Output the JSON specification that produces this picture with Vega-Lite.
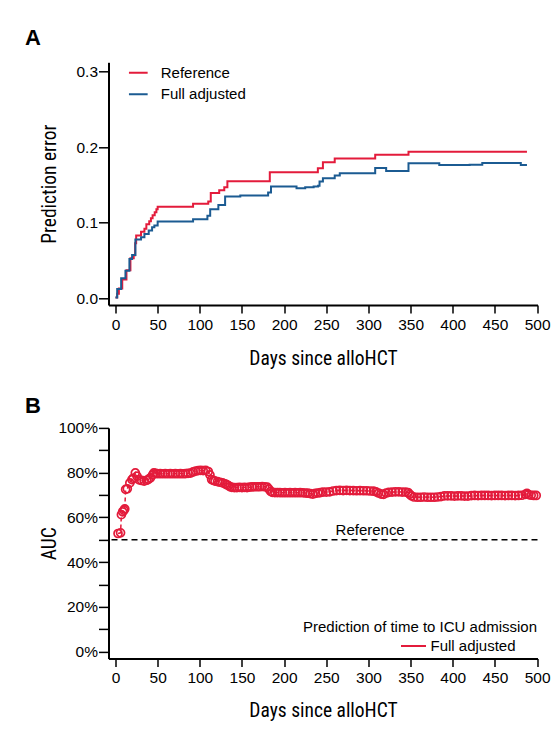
{
  "$schema": "https://vega.github.io/schema/vega-lite/v6.json",
  "padding": {"left": 24.5, "top": 27.3, "right": 0, "bottom": 12},
  "background": "white",
  "bounds": "flush",
  "spacing": 122.6,
  "resolve": {"scale": {"color": "independent"}, "legend": {"color": "independent"}},
  "config": {
    "view": {"stroke": null},
    "font": "Liberation Sans",
    "axis": {"grid": false, "domainColor": "black", "domainWidth": 2, "tickColor": "black", "tickWidth": 1.5, "labelFont": "Liberation Sans", "labelFontSize": 15.5, "labelColor": "black", "labelFlush": false, "titleFont": "Roboto Condensed, DejaVu Sans Condensed, Liberation Sans, sans-serif", "titleFontSize": 19.5, "titleFontWeight": "normal", "titleColor": "black"},
    "title": {"font": "Liberation Sans", "fontSize": 22, "fontWeight": "bold", "color": "black", "anchor": "start", "frame": "group", "dx": -83.5, "baseline": "alphabetic"}
  },
  "datasets": {
    "pe": [
      {"day": 0, "pe": 0.001, "model": "Reference"},
      {"day": 2, "pe": 0.006, "model": "Reference"},
      {"day": 4, "pe": 0.013, "model": "Reference"},
      {"day": 8, "pe": 0.025, "model": "Reference"},
      {"day": 13, "pe": 0.037, "model": "Reference"},
      {"day": 17.7, "pe": 0.053, "model": "Reference"},
      {"day": 21.6, "pe": 0.057, "model": "Reference"},
      {"day": 23.3, "pe": 0.073, "model": "Reference"},
      {"day": 24.5, "pe": 0.083, "model": "Reference"},
      {"day": 30.3, "pe": 0.088, "model": "Reference"},
      {"day": 34.3, "pe": 0.092, "model": "Reference"},
      {"day": 36.6, "pe": 0.098, "model": "Reference"},
      {"day": 40, "pe": 0.102, "model": "Reference"},
      {"day": 42, "pe": 0.106, "model": "Reference"},
      {"day": 44, "pe": 0.110, "model": "Reference"},
      {"day": 46.5, "pe": 0.114, "model": "Reference"},
      {"day": 48.5, "pe": 0.118, "model": "Reference"},
      {"day": 50, "pe": 0.1213, "model": "Reference"},
      {"day": 92, "pe": 0.125, "model": "Reference"},
      {"day": 110, "pe": 0.128, "model": "Reference"},
      {"day": 113, "pe": 0.1395, "model": "Reference"},
      {"day": 123, "pe": 0.143, "model": "Reference"},
      {"day": 129, "pe": 0.147, "model": "Reference"},
      {"day": 132.7, "pe": 0.155, "model": "Reference"},
      {"day": 183, "pe": 0.167, "model": "Reference"},
      {"day": 240, "pe": 0.172, "model": "Reference"},
      {"day": 246, "pe": 0.180, "model": "Reference"},
      {"day": 260, "pe": 0.185, "model": "Reference"},
      {"day": 308, "pe": 0.190, "model": "Reference"},
      {"day": 347.5, "pe": 0.194, "model": "Reference"},
      {"day": 488, "pe": 0.194, "model": "Reference"},
      {"day": 0, "pe": 0.001, "model": "Full adjusted"},
      {"day": 2, "pe": 0.0123, "model": "Full adjusted"},
      {"day": 6.7, "pe": 0.0265, "model": "Full adjusted"},
      {"day": 11.8, "pe": 0.0366, "model": "Full adjusted"},
      {"day": 16.5, "pe": 0.052, "model": "Full adjusted"},
      {"day": 19.7, "pe": 0.0573, "model": "Full adjusted"},
      {"day": 23.6, "pe": 0.0777, "model": "Full adjusted"},
      {"day": 30.3, "pe": 0.0808, "model": "Full adjusted"},
      {"day": 34.3, "pe": 0.085, "model": "Full adjusted"},
      {"day": 39.4, "pe": 0.0896, "model": "Full adjusted"},
      {"day": 43.4, "pe": 0.094, "model": "Full adjusted"},
      {"day": 46.1, "pe": 0.0962, "model": "Full adjusted"},
      {"day": 50, "pe": 0.1015, "model": "Full adjusted"},
      {"day": 92, "pe": 0.1046, "model": "Full adjusted"},
      {"day": 109, "pe": 0.1094, "model": "Full adjusted"},
      {"day": 112.3, "pe": 0.118, "model": "Full adjusted"},
      {"day": 122, "pe": 0.1236, "model": "Full adjusted"},
      {"day": 130, "pe": 0.1346, "model": "Full adjusted"},
      {"day": 148, "pe": 0.136, "model": "Full adjusted"},
      {"day": 181, "pe": 0.140, "model": "Full adjusted"},
      {"day": 184.4, "pe": 0.148, "model": "Full adjusted"},
      {"day": 214.7, "pe": 0.1457, "model": "Full adjusted"},
      {"day": 225, "pe": 0.147, "model": "Full adjusted"},
      {"day": 235, "pe": 0.148, "model": "Full adjusted"},
      {"day": 240.3, "pe": 0.149, "model": "Full adjusted"},
      {"day": 242, "pe": 0.1545, "model": "Full adjusted"},
      {"day": 246, "pe": 0.159, "model": "Full adjusted"},
      {"day": 260, "pe": 0.1624, "model": "Full adjusted"},
      {"day": 266, "pe": 0.1655, "model": "Full adjusted"},
      {"day": 308, "pe": 0.1726, "model": "Full adjusted"},
      {"day": 321, "pe": 0.1686, "model": "Full adjusted"},
      {"day": 347.5, "pe": 0.1788, "model": "Full adjusted"},
      {"day": 384, "pe": 0.1766, "model": "Full adjusted"},
      {"day": 420, "pe": 0.1768, "model": "Full adjusted"},
      {"day": 435, "pe": 0.179, "model": "Full adjusted"},
      {"day": 480.7, "pe": 0.1766, "model": "Full adjusted"},
      {"day": 488, "pe": 0.1766, "model": "Full adjusted"}
    ],
    "auc": [
      {"day": 3, "auc": 0.528}, {"day": 6, "auc": 0.531}, {"day": 7, "auc": 0.612}, {"day": 8.5, "auc": 0.625},
      {"day": 10, "auc": 0.632}, {"day": 11, "auc": 0.638}, {"day": 12, "auc": 0.725}, {"day": 14, "auc": 0.728},
      {"day": 17, "auc": 0.754}, {"day": 19.5, "auc": 0.769}, {"day": 21, "auc": 0.775}, {"day": 23.5, "auc": 0.799},
      {"day": 25.5, "auc": 0.784}, {"day": 28, "auc": 0.768}, {"day": 31, "auc": 0.765}, {"day": 34, "auc": 0.762},
      {"day": 37, "auc": 0.766}, {"day": 39, "auc": 0.770}, {"day": 41.5, "auc": 0.777}, {"day": 44, "auc": 0.790},
      {"day": 45.5, "auc": 0.799}, {"day": 48, "auc": 0.797}, {"day": 50, "auc": 0.795}, {"day": 53, "auc": 0.796},
      {"day": 56, "auc": 0.795}, {"day": 59, "auc": 0.796}, {"day": 62, "auc": 0.795}, {"day": 65, "auc": 0.796},
      {"day": 68, "auc": 0.795}, {"day": 71, "auc": 0.796}, {"day": 74, "auc": 0.795}, {"day": 77, "auc": 0.796},
      {"day": 80, "auc": 0.795}, {"day": 83, "auc": 0.796}, {"day": 86, "auc": 0.797}, {"day": 89, "auc": 0.798},
      {"day": 92, "auc": 0.803}, {"day": 95, "auc": 0.807}, {"day": 98, "auc": 0.809}, {"day": 101, "auc": 0.810},
      {"day": 104, "auc": 0.809}, {"day": 107, "auc": 0.810}, {"day": 110, "auc": 0.805}, {"day": 112, "auc": 0.790},
      {"day": 114, "auc": 0.769}, {"day": 116, "auc": 0.766}, {"day": 118, "auc": 0.762}, {"day": 121, "auc": 0.760},
      {"day": 124, "auc": 0.757}, {"day": 127, "auc": 0.754}, {"day": 130, "auc": 0.750}, {"day": 132, "auc": 0.746},
      {"day": 134, "auc": 0.742}, {"day": 136, "auc": 0.737}, {"day": 138, "auc": 0.734}, {"day": 141, "auc": 0.733},
      {"day": 144, "auc": 0.733}, {"day": 147, "auc": 0.734}, {"day": 150, "auc": 0.733}, {"day": 153, "auc": 0.734},
      {"day": 156, "auc": 0.733}, {"day": 159, "auc": 0.735}, {"day": 162, "auc": 0.736}, {"day": 165, "auc": 0.737},
      {"day": 168, "auc": 0.737}, {"day": 171, "auc": 0.737}, {"day": 174, "auc": 0.738}, {"day": 177, "auc": 0.737},
      {"day": 180, "auc": 0.735}, {"day": 182, "auc": 0.726}, {"day": 184, "auc": 0.716}, {"day": 186, "auc": 0.712},
      {"day": 189, "auc": 0.711}, {"day": 192, "auc": 0.711}, {"day": 195, "auc": 0.711}, {"day": 198, "auc": 0.710},
      {"day": 201, "auc": 0.711}, {"day": 204, "auc": 0.710}, {"day": 207, "auc": 0.711}, {"day": 210, "auc": 0.710},
      {"day": 213, "auc": 0.711}, {"day": 216, "auc": 0.710}, {"day": 219, "auc": 0.711}, {"day": 222, "auc": 0.710},
      {"day": 225, "auc": 0.709}, {"day": 228, "auc": 0.708}, {"day": 231, "auc": 0.706}, {"day": 234, "auc": 0.704},
      {"day": 237, "auc": 0.707}, {"day": 240, "auc": 0.709}, {"day": 243, "auc": 0.711}, {"day": 246, "auc": 0.713},
      {"day": 250, "auc": 0.713}, {"day": 254, "auc": 0.714}, {"day": 258, "auc": 0.718}, {"day": 262, "auc": 0.720},
      {"day": 266, "auc": 0.721}, {"day": 270, "auc": 0.720}, {"day": 274, "auc": 0.721}, {"day": 278, "auc": 0.720},
      {"day": 282, "auc": 0.720}, {"day": 286, "auc": 0.719}, {"day": 290, "auc": 0.720}, {"day": 294, "auc": 0.719},
      {"day": 298, "auc": 0.719}, {"day": 302, "auc": 0.718}, {"day": 306, "auc": 0.717}, {"day": 309, "auc": 0.714},
      {"day": 312, "auc": 0.709}, {"day": 315, "auc": 0.704}, {"day": 318, "auc": 0.703}, {"day": 321, "auc": 0.709},
      {"day": 324, "auc": 0.712}, {"day": 328, "auc": 0.713}, {"day": 332, "auc": 0.714}, {"day": 336, "auc": 0.714},
      {"day": 340, "auc": 0.713}, {"day": 344, "auc": 0.713}, {"day": 347, "auc": 0.711}, {"day": 349, "auc": 0.703},
      {"day": 351, "auc": 0.696}, {"day": 354, "auc": 0.691}, {"day": 358, "auc": 0.690}, {"day": 362, "auc": 0.690},
      {"day": 366, "auc": 0.691}, {"day": 370, "auc": 0.690}, {"day": 374, "auc": 0.690}, {"day": 378, "auc": 0.690},
      {"day": 382, "auc": 0.691}, {"day": 386, "auc": 0.693}, {"day": 390, "auc": 0.696}, {"day": 394, "auc": 0.696},
      {"day": 398, "auc": 0.696}, {"day": 402, "auc": 0.695}, {"day": 406, "auc": 0.696}, {"day": 410, "auc": 0.696},
      {"day": 414, "auc": 0.695}, {"day": 418, "auc": 0.695}, {"day": 422, "auc": 0.697}, {"day": 426, "auc": 0.698},
      {"day": 430, "auc": 0.697}, {"day": 434, "auc": 0.698}, {"day": 438, "auc": 0.698}, {"day": 442, "auc": 0.698},
      {"day": 446, "auc": 0.697}, {"day": 450, "auc": 0.698}, {"day": 454, "auc": 0.698}, {"day": 458, "auc": 0.698},
      {"day": 462, "auc": 0.697}, {"day": 466, "auc": 0.698}, {"day": 470, "auc": 0.698}, {"day": 474, "auc": 0.697},
      {"day": 478, "auc": 0.698}, {"day": 482, "auc": 0.699}, {"day": 486, "auc": 0.703}, {"day": 488, "auc": 0.707},
      {"day": 490, "auc": 0.702}, {"day": 493, "auc": 0.699}, {"day": 496, "auc": 0.698}, {"day": 499, "auc": 0.698}
    ]
  },
  "vconcat": [
    {
      "title": {"text": "A", "offset": 12},
      "width": 429,
      "height": 242.7,
      "data": {"name": "pe"},
      "mark": {"type": "line", "interpolate": "step-after", "strokeWidth": 2},
      "encoding": {
        "x": {"field": "day", "type": "quantitative",
          "scale": {"domain": [-8.3, 500.5], "nice": false, "zero": false},
          "axis": {"title": "Days since alloHCT", "values": [0, 50, 100, 150, 200, 250, 300, 350, 400, 450, 500], "tickSize": 8, "labelPadding": 4.2, "titleY": 60, "titleBaseline": "alphabetic"}},
        "y": {"field": "pe", "type": "quantitative",
          "scale": {"domain": [-0.0089, 0.3124], "nice": false, "zero": false},
          "axis": {"title": "Prediction error", "values": [0, 0.1, 0.2, 0.3], "format": ".1f", "tickSize": 10, "labelPadding": 1, "titleX": -53, "titleY": 121.35, "titleBaseline": "alphabetic"}},
        "color": {"field": "model", "type": "nominal",
          "scale": {"domain": ["Reference", "Full adjusted"], "range": ["#e31b3b", "#1b5b92"]},
          "legend": {"title": null, "orient": "none", "legendX": 19.3, "legendY": 2.9, "symbolType": "stroke", "symbolSize": 350, "symbolStrokeWidth": 2, "labelFontSize": 15, "labelFont": "Liberation Sans", "labelColor": "black", "labelOffset": 12, "clipHeight": 15, "rowPadding": 5.6, "padding": 0}}
      }
    },
    {
      "title": {"text": "B", "offset": 3},
      "width": 429,
      "height": 230.7,
      "layer": [
        {
          "data": {"values": [{"ref": 0.5}]},
          "mark": {"type": "rule", "strokeDash": [6, 4], "strokeWidth": 1.5, "color": "black"},
          "encoding": {"y": {"field": "ref", "type": "quantitative"}}
        },
        {
          "data": {"values": [{"day": 302, "auc": 0.543, "label": "Reference"}]},
          "mark": {"type": "text", "fontSize": 15, "font": "Liberation Sans", "baseline": "middle", "align": "center", "color": "black"},
          "encoding": {"x": {"field": "day", "type": "quantitative"}, "y": {"field": "auc", "type": "quantitative"}, "text": {"field": "label"}}
        },
        {
          "data": {"name": "auc"},
          "mark": {"type": "line", "strokeDash": [4, 3], "strokeWidth": 1.5},
          "encoding": {
            "x": {"field": "day", "type": "quantitative"},
            "y": {"field": "auc", "type": "quantitative"},
            "color": {"datum": "Full adjusted", "type": "nominal",
              "scale": {"domain": ["Full adjusted"], "range": ["#e31b3b"]},
              "legend": {"title": "Prediction of time to ICU admission", "orient": "none", "legendX": 194.5, "legendY": 192.6, "titleFont": "Liberation Sans", "titleFontSize": 15, "titleFontWeight": "normal", "titleColor": "black", "titleBaseline": "top", "titlePadding": 3, "titleLimit": 400, "symbolType": "stroke", "symbolDash": [30, 0], "symbolSize": 625, "symbolStrokeWidth": 2, "symbolOffset": 97, "labelOffset": 3.5, "labelLimit": 300, "labelFontSize": 15, "labelFont": "Liberation Sans", "labelColor": "black", "clipHeight": 15, "padding": 0}}
          }
        },
        {
          "data": {"name": "auc"},
          "mark": {"type": "point", "shape": "circle", "filled": false, "size": 64, "strokeWidth": 1.7, "color": "#e31b3b", "opacity": 1},
          "encoding": {
            "x": {"field": "day", "type": "quantitative"},
            "y": {"field": "auc", "type": "quantitative"}
          }
        }
      ],
      "encoding": {
        "x": {"type": "quantitative",
          "scale": {"domain": [-8.3, 500.5], "nice": false, "zero": false},
          "axis": {"title": "Days since alloHCT", "values": [0, 50, 100, 150, 200, 250, 300, 350, 400, 450, 500], "tickSize": 8, "labelPadding": 4.2, "titleY": 58, "titleBaseline": "alphabetic"}},
        "y": {"type": "quantitative",
          "scale": {"domain": [-0.0313, 1.0], "nice": false, "zero": false},
          "axis": {"title": "AUC", "values": [0, 0.1, 0.2, 0.3, 0.4, 0.5, 0.6, 0.7, 0.8, 0.9, 1.0], "labelExpr": "round(datum.value * 10) % 2 === 0 ? format(datum.value, '.0%') : ''", "tickSize": 10, "labelPadding": 1, "titleX": -53, "titleY": 115.35, "titleBaseline": "alphabetic"}}
      }
    }
  ]
}
